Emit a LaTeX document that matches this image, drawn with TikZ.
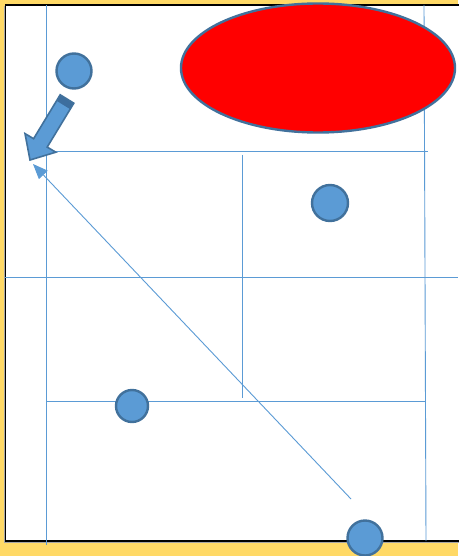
\documentclass[tikz,border=0pt]{standalone}
\usetikzlibrary{arrows.meta,calc,shapes.geometric}
\definecolor{bgyellow}{HTML}{FFD966}
\definecolor{accent}{HTML}{5B9BD5}
\definecolor{accentdark}{HTML}{41719C}
\definecolor{bandcol}{HTML}{3D6E9E}
\begin{document}
\begin{tikzpicture}[x=1pt,y=-1pt,
  gridline/.style={draw=accent,line width=0.9pt},
  dot/.style={circle,fill=accent,draw=accentdark,line width=2.4pt,inner sep=0pt},
  blob/.style={ellipse,fill=red,draw=accentdark,line width=2.4pt,inner sep=0pt}]
\useasboundingbox (0,0) rectangle (458,556);
\fill[bgyellow] (0,0) rectangle (458,556);
% sheet with shadow
\fill[gray!70] (4,6.5) rectangle (470,543);
\fill[white] (5.5,5) rectangle (470,541);
\draw[black,line width=1.2pt] (470,5) -- (5.5,5) -- (5.5,541) -- (470,541);
% grid coordinates
\coordinate (v1a) at (46,5);   \coordinate (v1b) at (46,545);
\coordinate (v2a) at (424,5);  \coordinate (v2b) at (426,541);
\coordinate (v3a) at (242,155);\coordinate (v3b) at (242,398);
\coordinate (h1a) at (46,151); \coordinate (h1b) at (428,151);
\coordinate (h2a) at (5,277);  \coordinate (h2b) at (458,277);
\coordinate (h3a) at (46,401); \coordinate (h3b) at (426,401);
\draw[gridline] (v1a) -- (v1b);
\draw[gridline] (v2a) -- (v2b);
\draw[gridline] (v3a) -- (v3b);
\draw[gridline] (h1a) -- (h1b);
\draw[gridline] (h2a) -- (h2b);
\draw[gridline] (h3a) -- (h3b);
% diagonal arrow
\coordinate (d1) at (351,499);
\coordinate (d2) at (33,164);
\draw[draw=accent,line width=0.9pt,-{Triangle[length=15pt,width=12pt]}] (d1) -- (d2);
% ellipse
\node[blob,minimum width=274pt,minimum height=129pt] (e1) at (318,68) {};
% circles
\node[dot,minimum size=35pt] (c1) at (74,71) {};
\node[dot,minimum size=36pt] (c2) at (330,203) {};
\node[dot,minimum size=32pt] (c3) at (132,406) {};
\node[dot,minimum size=35pt] (c4) at (365,538) {};
% block arrow
\fill[accent]
  (73.8,103.2) -- (47.2,147.1) -- (55.8,152.2) -- (30,160) -- (25.0,133.6)
  -- (33.6,138.7) -- (60.2,94.8) -- cycle;
\fill[bandcol] (73.8,103.2) -- (70.2,109.2) -- (56.6,100.8) -- (60.2,94.8) -- cycle;
\draw[accentdark,line width=1.6pt,line join=miter]
  (73.8,103.2) -- (47.2,147.1) -- (55.8,152.2) -- (30,160) -- (25.0,133.6)
  -- (33.6,138.7) -- (60.2,94.8) -- cycle;
\end{tikzpicture}
\end{document}
